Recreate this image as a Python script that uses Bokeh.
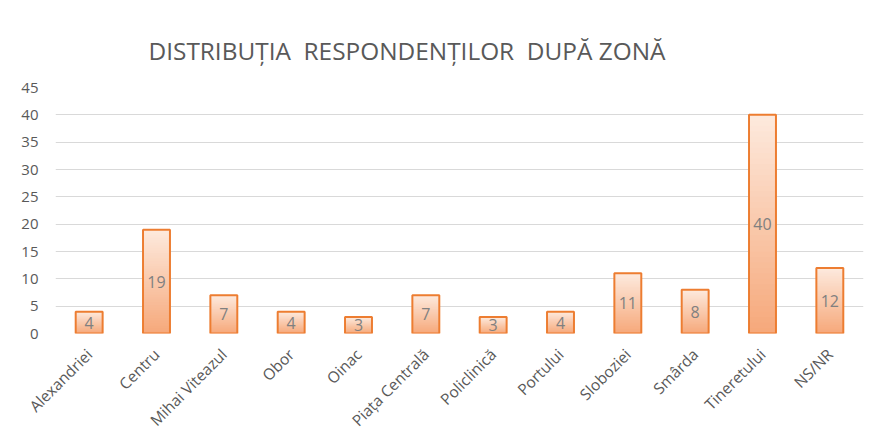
import math
from bokeh.plotting import figure
from bokeh.models import ColumnDataSource, FactorRange, Range1d, SingleIntervalTicker, Title
from bokeh.embed import file_html
from bokeh.resources import INLINE

zones = ["Alexandriei", "Centru", "Mihai Viteazul", "Obor", "Oinac", "Piața Centrală",
         "Policlinică", "Portului", "Sloboziei", "Smârda", "Tineretului", "NS/NR"]
counts = [4, 19, 7, 4, 3, 7, 3, 4, 11, 8, 40, 12]
title_text = "DISTRIBUȚIA \u00a0RESPONDENȚILOR \u00a0DUPĂ ZONĂ"

p = figure(x_range=FactorRange(*zones), y_range=Range1d(0, 45),
           width=864, height=441, output_backend="svg", toolbar_location=None,
           min_border_left=55, min_border_right=1, min_border_top=87, min_border_bottom=108)
p.outline_line_color = None
p.background_fill_color = "white"
p.border_fill_color = "white"

# gradient bars built from overlapping slices of each bar's own height
top_rgb = (253, 234, 222)
bot_rgb = (246, 168, 122)
N = 40
sx, sb, st, sc = [], [], [], []
for z, v in zip(zones, counts):
    for i in range(N):
        f = (i + 0.5) / N
        c = tuple(int(round(bot_rgb[k] + (top_rgb[k] - bot_rgb[k]) * f)) for k in range(3))
        sx.append(z)
        sb.append(v * i / N)
        st.append(v)
        sc.append("#%02x%02x%02x" % c)
p.vbar(x=sx, bottom=sb, top=st, width=0.4, fill_color=sc, line_color=None)

src = ColumnDataSource(dict(z=zones, v=counts, mid=[v / 2 for v in counts],
                            lab=[str(v) for v in counts]))
p.vbar(x="z", top="v", width=0.4, source=src, fill_color=None,
       line_color="#ED7D31", line_width=2)
p.text(x="z", y="mid", text="lab", source=src, text_align="center",
       text_baseline="middle", text_color="#808080", text_font_size="16px",
       text_font={"value": "Open Sans"})

p.title = Title(text=title_text, align="left", offset=93, text_font="Open Sans",
                text_font_size="24.4px", text_font_style="normal", text_color="#595959",
                standoff=42)

p.yaxis.ticker = SingleIntervalTicker(interval=5)
p.yaxis.axis_line_color = None
p.yaxis.major_tick_line_color = None
p.yaxis.minor_tick_line_color = None
p.yaxis.major_label_standoff = 11
p.yaxis.major_label_text_font = "Open Sans"
p.yaxis.major_label_text_font_size = "15px"
p.yaxis.major_label_text_color = "#595959"

p.xaxis.axis_line_color = None
p.xaxis.major_tick_line_color = None
p.xaxis.major_label_orientation = math.pi / 4
p.xaxis.major_label_standoff = 12
p.xaxis.major_label_text_font = "Open Sans"
p.xaxis.major_label_text_font_size = "15.5px"
p.xaxis.major_label_text_color = "#595959"

p.xgrid.grid_line_color = None
p.ygrid.grid_line_color = "#D9D9D9"
p.ygrid.grid_line_width = 1
p.x_range.range_padding = 0

open("out.html", "w").write(file_html(p, INLINE))
